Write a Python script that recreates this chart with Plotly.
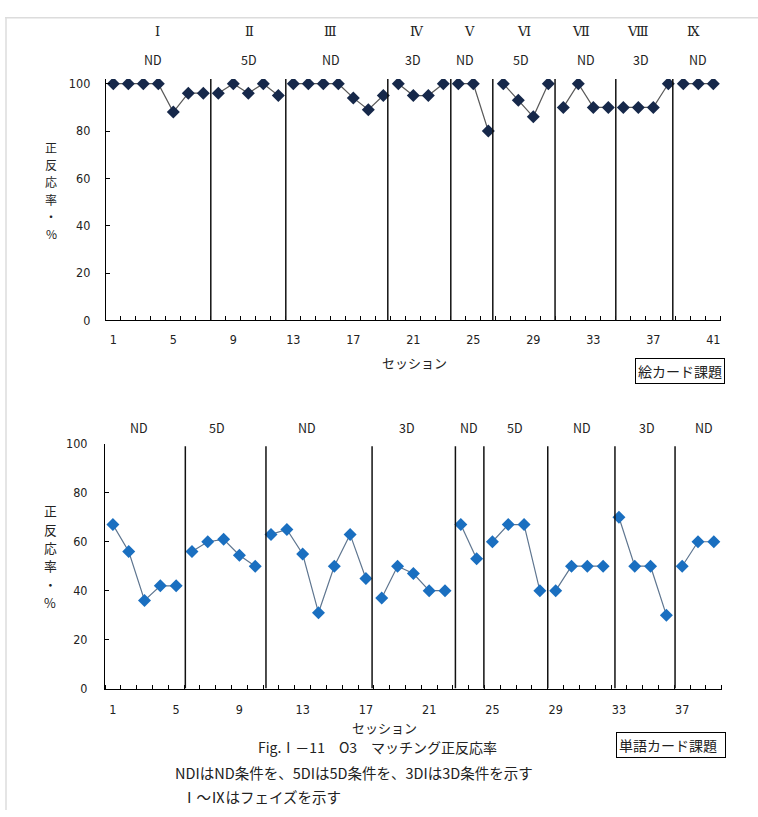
import plotly.graph_objects as go

W, H = 758, 817

# ---- 絵カード課題 (picture-card task) ----
pic_phase_sizes = [7, 5, 7, 4, 3, 4, 4, 4, 3]
pic_rate = [100, 100, 100, 100, 88, 96, 96,
            96, 100, 96, 100, 95,
            100, 100, 100, 100, 94, 89, 95,
            100, 95, 95, 100,
            100, 100, 80,
            100, 93, 86, 100,
            90, 100, 90, 90,
            90, 90, 90, 100,
            100, 100, 100]
pic_phase_breaks = [7.5, 12.5, 19.3, 23.5, 26.3, 30.45, 34.5, 38.3]
pic_phase_names = ["Ⅰ", "Ⅱ", "Ⅲ", "Ⅳ", "Ⅴ", "Ⅵ", "Ⅶ", "Ⅷ", "Ⅸ"]
pic_conditions = ["ND", "5D", "ND", "3D", "ND", "5D", "ND", "3D", "ND"]
pic_ticks = [1, 5, 9, 13, 17, 21, 25, 29, 33, 37, 41]

# ---- 単語カード課題 (word-card task) ----
word_phase_sizes = [5, 5, 7, 5, 2, 4, 4, 4, 3]
word_rate = [67, 56, 36, 42, 42,
             56, 60, 61, 54.5, 50,
             63, 65, 55, 31, 50, 63, 45,
             37, 50, 47, 40, 40,
             67, 53,
             60, 67, 67, 40,
             40, 50, 50, 50,
             70, 50, 50, 30,
             50, 60, 60]
word_phase_breaks = [5.58, 10.68, 17.39, 22.66, 24.46, 28.5, 32.75, 36.55]
word_conditions = ["ND", "5D", "ND", "3D", "ND", "5D", "ND", "3D", "ND"]
word_ticks = [1, 5, 9, 13, 17, 21, 25, 29, 33, 37]

y_ticks = [0, 20, 40, 60, 80, 100]
y_title_chars = ["正", "反", "応", "率", "・", "%"]

# label positions along the session axis
pic_label_x = [3.97, 10.09, 15.49, 21.23, 24.73, 28.41, 32.2, 35.95, 39.66]
pic_cond_x = [3.67, 10.02, 15.49, 20.99, 24.44, 28.19, 32.54, 36.21, 39.95]
word_cond_x = [2.62, 7.58, 13.27, 19.6, 23.49, 26.45, 30.67, 34.78, 38.36]


def px(x):
    return x / W


def py(y):
    return 1 - y / H


def split_phases(values, sizes):
    """Session numbers and values with a gap between phases."""
    xs, ys = [], []
    start = 0
    for n in sizes:
        for i in range(start, start + n):
            xs.append(i + 1)
            ys.append(values[i])
        xs.append(None)
        ys.append(None)
        start += n
    return xs, ys


JP = "Noto Sans CJK JP"
NUM = "Liberation Sans Narrow, DejaVu Sans Condensed, Liberation Sans, sans-serif"
TXT = "#222222"

fig = go.Figure()

x1, y1 = split_phases(pic_rate, pic_phase_sizes)
fig.add_trace(go.Scatter(
    x=x1, y=y1, mode="lines+markers", xaxis="x", yaxis="y",
    line=dict(color="#5a5a5a", width=1.2),
    marker=dict(symbol="diamond", size=10, color="#16284a",
                line=dict(width=0)),
    connectgaps=False, showlegend=False, hoverinfo="x+y"))

x2, y2 = split_phases(word_rate, word_phase_sizes)
fig.add_trace(go.Scatter(
    x=x2, y=y2, mode="lines+markers", xaxis="x2", yaxis="y2",
    line=dict(color="#5f7690", width=1.2),
    marker=dict(symbol="diamond", size=10, color="#1a6fc0",
                line=dict(width=0)),
    connectgaps=False, showlegend=False, hoverinfo="x+y"))

shapes = []
for b in pic_phase_breaks:
    shapes.append(dict(type="line", xref="x", yref="y", x0=b, x1=b, y0=0, y1=102,
                       line=dict(color="#111111", width=1.5)))
for b in word_phase_breaks:
    shapes.append(dict(type="line", xref="x2", yref="y2", x0=b, x1=b, y0=0, y1=99,
                       line=dict(color="#111111", width=1.5)))
# thin page frame
shapes.append(dict(type="line", xref="paper", yref="paper",
                   x0=px(5), x1=1, y0=py(10), y1=py(10),
                   line=dict(color="#dcdcdc", width=1.5)))
shapes.append(dict(type="line", xref="paper", yref="paper",
                   x0=px(6), x1=px(6), y0=py(10), y1=0,
                   line=dict(color="#dcdcdc", width=1.5)))


def label(x, y, text, size=12, xref="paper", family=JP, **kw):
    d = dict(x=x, y=y, xref=xref, yref="paper", text=text, showarrow=False,
             xanchor="center", yanchor="middle",
             font=dict(family=family, size=size, color=TXT))
    d.update(kw)
    return d


ann = []
for name, xv in zip(pic_phase_names, pic_label_x):
    ann.append(label(xv, py(24), name, size=13, xref="x",
                     family="DejaVu Serif, " + JP))
for cond, xv in zip(pic_conditions, pic_cond_x):
    ann.append(label(xv, py(52), cond, size=12.5, xref="x"))
for cond, xv in zip(word_conditions, word_cond_x):
    ann.append(label(xv, py(427), cond, size=12.5, xref="x2"))

# vertical (stacked) y-axis titles, one character per row
for i, ch in enumerate(y_title_chars):
    ann.append(label(px(51), py(142 + 17.6 * i), ch, size=12, borderpad=0))
    ann.append(label(px(50), py(512 + 18.8 * i), ch, size=12.8, borderpad=0))

ann.append(label(px(414), py(361), "セッション", size=13))
ann.append(label(px(384), py(733), "セッション", size=13))

ann.append(label(px(680), py(370), "絵カード課題", size=14,
                 bordercolor="#000", borderwidth=1, borderpad=2, bgcolor="white"))
ann.append(label(px(671), py(751), "単語カード課題&nbsp;&nbsp;", size=14,
                 bordercolor="#000", borderwidth=1, borderpad=2, bgcolor="white"))

ann.append(label(px(377), py(753), "Fig.Ⅰ－11　O3　マッチング正反応率", size=14))
ann.append(label(px(173), py(779), "NDIはND条件を、5DIは5D条件を、3DIは3D条件を示す",
                 size=14.5, xanchor="left"))
ann.append(label(px(180), py(803), "Ⅰ～Ⅸはフェイズを示す", size=14.5, xanchor="left"))

axis_common = dict(showline=True, linecolor="#000", linewidth=1, showgrid=False,
                   zeroline=False, tickfont=dict(family=NUM, size=12.5, color=TXT))

fig.update_layout(
    width=W, height=H, margin=dict(l=0, r=0, t=0, b=0),
    paper_bgcolor="white", plot_bgcolor="white",
    showlegend=False,
    xaxis=dict(domain=[px(105.8), px(720.8)], range=[0.5, 41.5], anchor="y",
               tickmode="array", tickvals=pic_ticks, ticks="",
               ticklabelstandoff=8,
               minor=dict(tickmode="linear", tick0=0.5, dtick=1, ticks="inside",
                          ticklen=4, tickcolor="#000"),
               **axis_common),
    yaxis=dict(domain=[py(318.3), py(72.3)], range=[0, 102], anchor="x",
               tickmode="array", tickvals=y_ticks, ticks="inside", ticklen=4,
               tickcolor="#000", ticklabelstandoff=12, **axis_common),
    xaxis2=dict(domain=[px(105), px(721.7)], range=[0.5, 39.5], anchor="y2",
                tickmode="array", tickvals=word_ticks, ticks="",
                ticklabelstandoff=9,
                minor=dict(tickmode="linear", tick0=0.5, dtick=1, ticks="inside",
                           ticklen=4, tickcolor="#000"),
                **axis_common),
    yaxis2=dict(domain=[py(693.3), py(444)], range=[0, 100], anchor="x2",
                tickmode="array", tickvals=y_ticks, ticks="inside", ticklen=4,
                tickcolor="#000", ticklabelstandoff=14, **axis_common),
    shapes=shapes,
    annotations=ann,
)

fig.write_html("out.html")
